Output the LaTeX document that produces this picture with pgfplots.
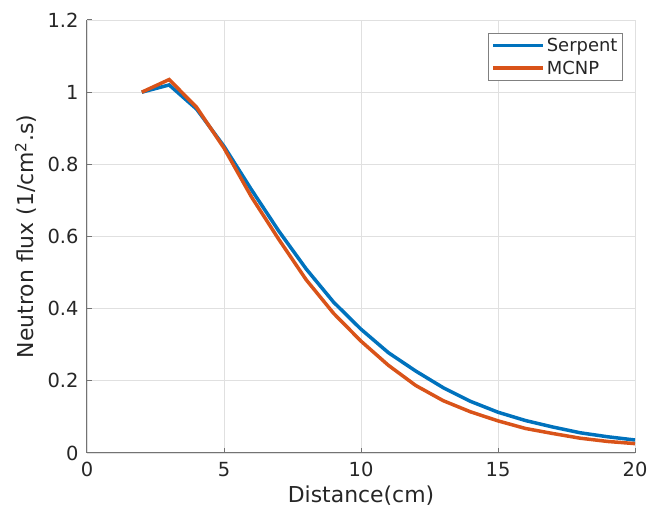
\documentclass[border=0pt]{standalone}
\usepackage{pgfplots}
\pgfplotsset{compat=1.18}
\usepackage{fontspec}
\setmainfont{DejaVu Sans}
\definecolor{mblue}{rgb}{0,0.447,0.741}
\definecolor{morange}{rgb}{0.85,0.325,0.098}
\begin{document}
\begin{tikzpicture}[x=1bp,y=1bp]
\path[use as bounding box] (-87,-58) rectangle (562,453);
\begin{axis}[
  at={(0,0)}, anchor=south west,
  width=548bp, height=433bp, scale only axis,
  xmin=0, xmax=20, ymin=0, ymax=1.2,
  xtick={0,5,...,20}, ytick={0,0.2,...,1.2},
  yticklabels={0,0.2,0.4,0.6,0.8,1,1.2},
  axis lines=left,
  axis line style={-, draw=black!55, line width=1bp},
  tick style={draw=black!55, line width=1bp},
  tick align=inside, major tick length=5bp,
  grid=major,
  major grid style={draw=black!12, line width=0.8bp},
  tick label style={font=\fontsize{19.5}{22}\selectfont, text=black!85},
  xticklabel style={yshift=-6bp},
  yticklabel style={xshift=-5bp},
  /pgf/number format/assume math mode=true,
  xlabel={Distance(cm)}, ylabel={Neutron flux (1/cm\textsuperscript{2}.s)},
  label style={font=\fontsize{22}{24}\selectfont, text=black!85},
  xlabel style={yshift=-2bp},
  ylabel style={yshift=4bp},
  legend style={at={(0.978,0.971)}, anchor=north east, draw=black!50, line width=1bp,
    font=\fontsize{18}{20}\selectfont, inner xsep=3bp, inner ysep=3bp, row sep=4bp, text=black!85},
  legend cell align=left,
  legend image code/.code={\draw[#1, line width=3.5bp] (0bp,0bp) -- (50bp,0bp);},
]
\addplot[mblue, line width=3.5bp] coordinates {
(2,1.0) (3,1.02) (4,0.953) (5,0.85) (6,0.73) (7,0.615) (8,0.51) (9,0.418) (10,0.343)
(11,0.278) (12,0.227) (13,0.181) (14,0.143) (15,0.113) (16,0.09) (17,0.072)
(18,0.056) (19,0.045) (20,0.036)};
\addlegendentry{Serpent}
\addplot[morange, line width=3.5bp] coordinates {
(2,1.0) (3,1.035) (4,0.958) (5,0.845) (6,0.71) (7,0.592) (8,0.48) (9,0.387) (10,0.31)
(11,0.243) (12,0.187) (13,0.145) (14,0.114) (15,0.089) (16,0.068) (17,0.054)
(18,0.041) (19,0.032) (20,0.026)};
\addlegendentry{MCNP}
\end{axis}
\end{tikzpicture}
\end{document}
